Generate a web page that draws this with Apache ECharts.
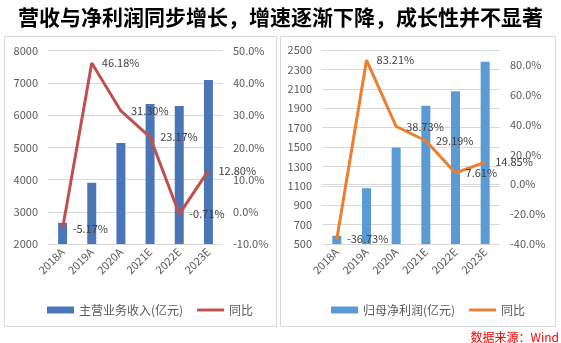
<!DOCTYPE html>
<html><head><meta charset="utf-8">
<script src="https://cdn.jsdelivr.net/npm/echarts@6/dist/echarts.min.js"></script>
<style>html,body{margin:0;padding:0;background:#fff}#c{width:561px;height:343px}</style>
</head><body><div id="c"></div>
<script>
const categories = ['2018A','2019A','2020A','2021E','2022E','2023E'];
const revenue = [2660, 3900, 5135, 6345, 6285, 7090];
const revenueYoY = [-5.17, 46.18, 31.30, 23.17, -0.71, 12.80];
const netProfit = [585, 1075, 1495, 1925, 2075, 2380];
const netProfitYoY = [-36.73, 83.21, 38.73, 29.19, 7.61, 14.85];
const titleText = '营收与净利润同步增长，增速逐渐下降，成长性并不显著';
const sourceText = '数据来源：Wind';

const FONT = 'Noto Sans CJK SC';
const txt = '#595959';
const grid = '#d9d9d9';
const chart = echarts.init(document.getElementById('c'), null, {renderer:'canvas'});
const lineIcon = 'path://M0,0 L28,0 L28,3 L0,3 Z';

function yAxis(idx, min, max, interval, pct, showSplit){
  return {
    type:'value', gridIndex: idx, min, max, interval,
    axisLine:{show:false}, axisTick:{show:false},
    splitLine:{show:showSplit, lineStyle:{color:grid, width:1}},
    axisLabel:{color:txt, fontSize:11, fontFamily:FONT, margin:10,
      showMaxLabel: pct && max % interval !== 0 ? false : true,
      formatter: pct ? (v => v.toFixed(1)+'%') : (v => String(v))}
  };
}
function xAxis(idx){
  return {
    type:'category', gridIndex: idx, data: categories,
    axisLine:{lineStyle:{color:grid}}, axisTick:{show:false},
    axisLabel:{color:txt, fontSize:11, fontFamily:FONT, rotate:45, margin:6, interval:0}
  };
}
const lineLabel = {show:true, position:'right', distance:10, color:'#404040', fontSize:11, fontFamily:FONT,
  formatter: p => p.value.toFixed(2)+'%'};

chart.setOption({
  animation:false,
  backgroundColor:'#fff',
  title:{text:titleText, left:'center', top:2,
    textStyle:{fontSize:21, fontWeight:'bold', color:'#000', fontFamily:FONT}},
  graphic:[
    {type:'rect', shape:{x:4.5, y:36.5, width:272, height:290}, style:{fill:'none', stroke:'#d9d9d9', lineWidth:1}, z:-1},
    {type:'rect', shape:{x:280.5, y:36.5, width:275, height:290}, style:{fill:'none', stroke:'#d9d9d9', lineWidth:1}, z:-1},
    {type:'text', right:2, top:331, style:{text:sourceText, fill:'#ff0000', font:'12px "'+FONT+'"'}}
  ],
  legend:[
    {left:42, top:299, itemWidth:27, itemHeight:7, itemGap:14,
     data:[{name:'主营业务收入(亿元)', icon:'rect'}, {name:'同比 ', icon:lineIcon}],
     textStyle:{color:txt, fontSize:12, fontFamily:FONT}},
    {left:326, top:299, itemWidth:27, itemHeight:7, itemGap:14,
     data:[{name:'归母净利润(亿元)', icon:'rect'}, {name:'同比', icon:lineIcon}],
     textStyle:{color:txt, fontSize:12, fontFamily:FONT}}
  ],
  grid:[
    {left:48, right:338, top:50.7, bottom:99},
    {left:322, right:61, top:50, bottom:99}
  ],
  xAxis:[xAxis(0), xAxis(1)],
  yAxis:[
    yAxis(0, 2000, 8000, 1000, false, true),
    Object.assign(yAxis(0, -10, 50, 10, true, false), {position:'right'}),
    yAxis(1, 500, 2500, 200, false, true),
    Object.assign(yAxis(1, -40, 90, 20, true, false), {position:'right'})
  ],
  series:[
    {name:'主营业务收入(亿元)', type:'bar', xAxisIndex:0, yAxisIndex:0, data:revenue, barWidth:9, itemStyle:{color:'#4a76b8'}},
    {name:'同比 ', type:'line', xAxisIndex:0, yAxisIndex:1, data:revenueYoY, symbol:'circle', symbolSize:0.1, showSymbol:true,
     lineStyle:{color:'#c0504d', width:3}, itemStyle:{color:'#c0504d'}, label:lineLabel, z:3},
    {name:'归母净利润(亿元)', type:'bar', xAxisIndex:1, yAxisIndex:2, data:netProfit, barWidth:9, itemStyle:{color:'#5b9bd5'}},
    {name:'同比', type:'line', xAxisIndex:1, yAxisIndex:3, data:netProfitYoY, symbol:'circle', symbolSize:0.1, showSymbol:true,
     lineStyle:{color:'#ed7d31', width:3}, itemStyle:{color:'#ed7d31'}, label:lineLabel, z:3}
  ]
});
</script></body></html>
